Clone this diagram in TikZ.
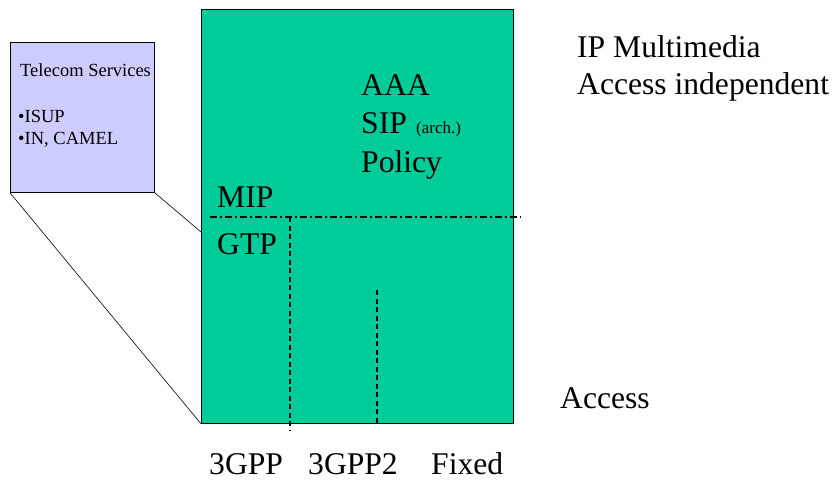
\documentclass[tikz,border=0pt]{standalone}
\usepackage{fontspec}
\setmainfont{Liberation Serif}
\definecolor{coregreen}{HTML}{00CC99}
\definecolor{svclilac}{HTML}{CCCCFF}
\tikzset{
  lbl/.style={inner sep=0pt, anchor=base west, font=\fontsize{31.6}{31.6}\selectfont},
  small/.style={inner sep=0pt, anchor=base west, font=\fontsize{18.5}{18.5}\selectfont},
  boundary/.style={line width=1.4pt, dash pattern=on 5pt off 3.5pt},
  layer/.style={line width=1.4pt, dash pattern=on 7pt off 3pt on 2pt off 3pt},
}
\begin{document}
\begin{tikzpicture}[x=1pt, y=-1pt]
  \useasboundingbox (0,0) rectangle (834,481);

  % core network block
  \node[draw=black, line width=0.8pt, fill=coregreen, inner sep=0pt,
        minimum width=312pt, minimum height=414pt, anchor=north west] (core) at (201,9) {};

  % telecom services call-out
  \node[draw=black, line width=0.8pt, fill=svclilac, inner sep=0pt,
        minimum width=144pt, minimum height=150pt, anchor=north west] (tel) at (10,42) {};
  \coordinate (gtpedge) at (201,232);
  \draw[line width=0.6pt] (tel.south west) -- (core.south west);
  \draw[line width=0.6pt] (tel.south east) -- (gtpedge);

  \node[small] (svc) at (20,77) {Telecom Services};
  \node[small] (isup) at (18,123) {•ISUP};
  \node[small] (camel) at (18,145) {•IN, CAMEL};

  % layer boundaries
  \coordinate (mipL) at (210,217);
  \coordinate (mipR) at (521,217);
  \coordinate (gppTop) at (290,217);
  \coordinate (gppBot) at (290,430);
  \coordinate (gpp2Top) at (377,290);
  \coordinate (gpp2Bot) at (377,423);
  \draw[layer] (mipL) -- (mipR);
  \draw[boundary] (gppTop) -- (gppBot);
  \draw[boundary] (gpp2Top) -- (gpp2Bot);

  % labels inside the block
  \node[lbl] (aaa) at (361,96) {AAA};
  \node[lbl] (sip) at (361,134) {SIP};
  \node[inner sep=0pt, anchor=base west, font=\fontsize{17}{17}\selectfont] (arch) at (416,134) {(arch.)};
  \node[lbl] (policy) at (361,172) {Policy};
  \node[lbl] (mip) at (217,207) {MIP};
  \node[lbl] (gtp) at (217,254) {GTP};

  % labels on the right
  \node[lbl] (ipmm) at (577,58) {IP Multimedia};
  \node[lbl] (indep) at (577,95) {Access independent};
  \node[lbl] (access) at (560,408) {Access};

  % access technologies
  \node[lbl] (g3) at (209,474) {3GPP};
  \node[lbl] (g32) at (308,474) {3GPP2};
  \node[lbl] (fixed) at (431,474) {Fixed};
\end{tikzpicture}
\end{document}
